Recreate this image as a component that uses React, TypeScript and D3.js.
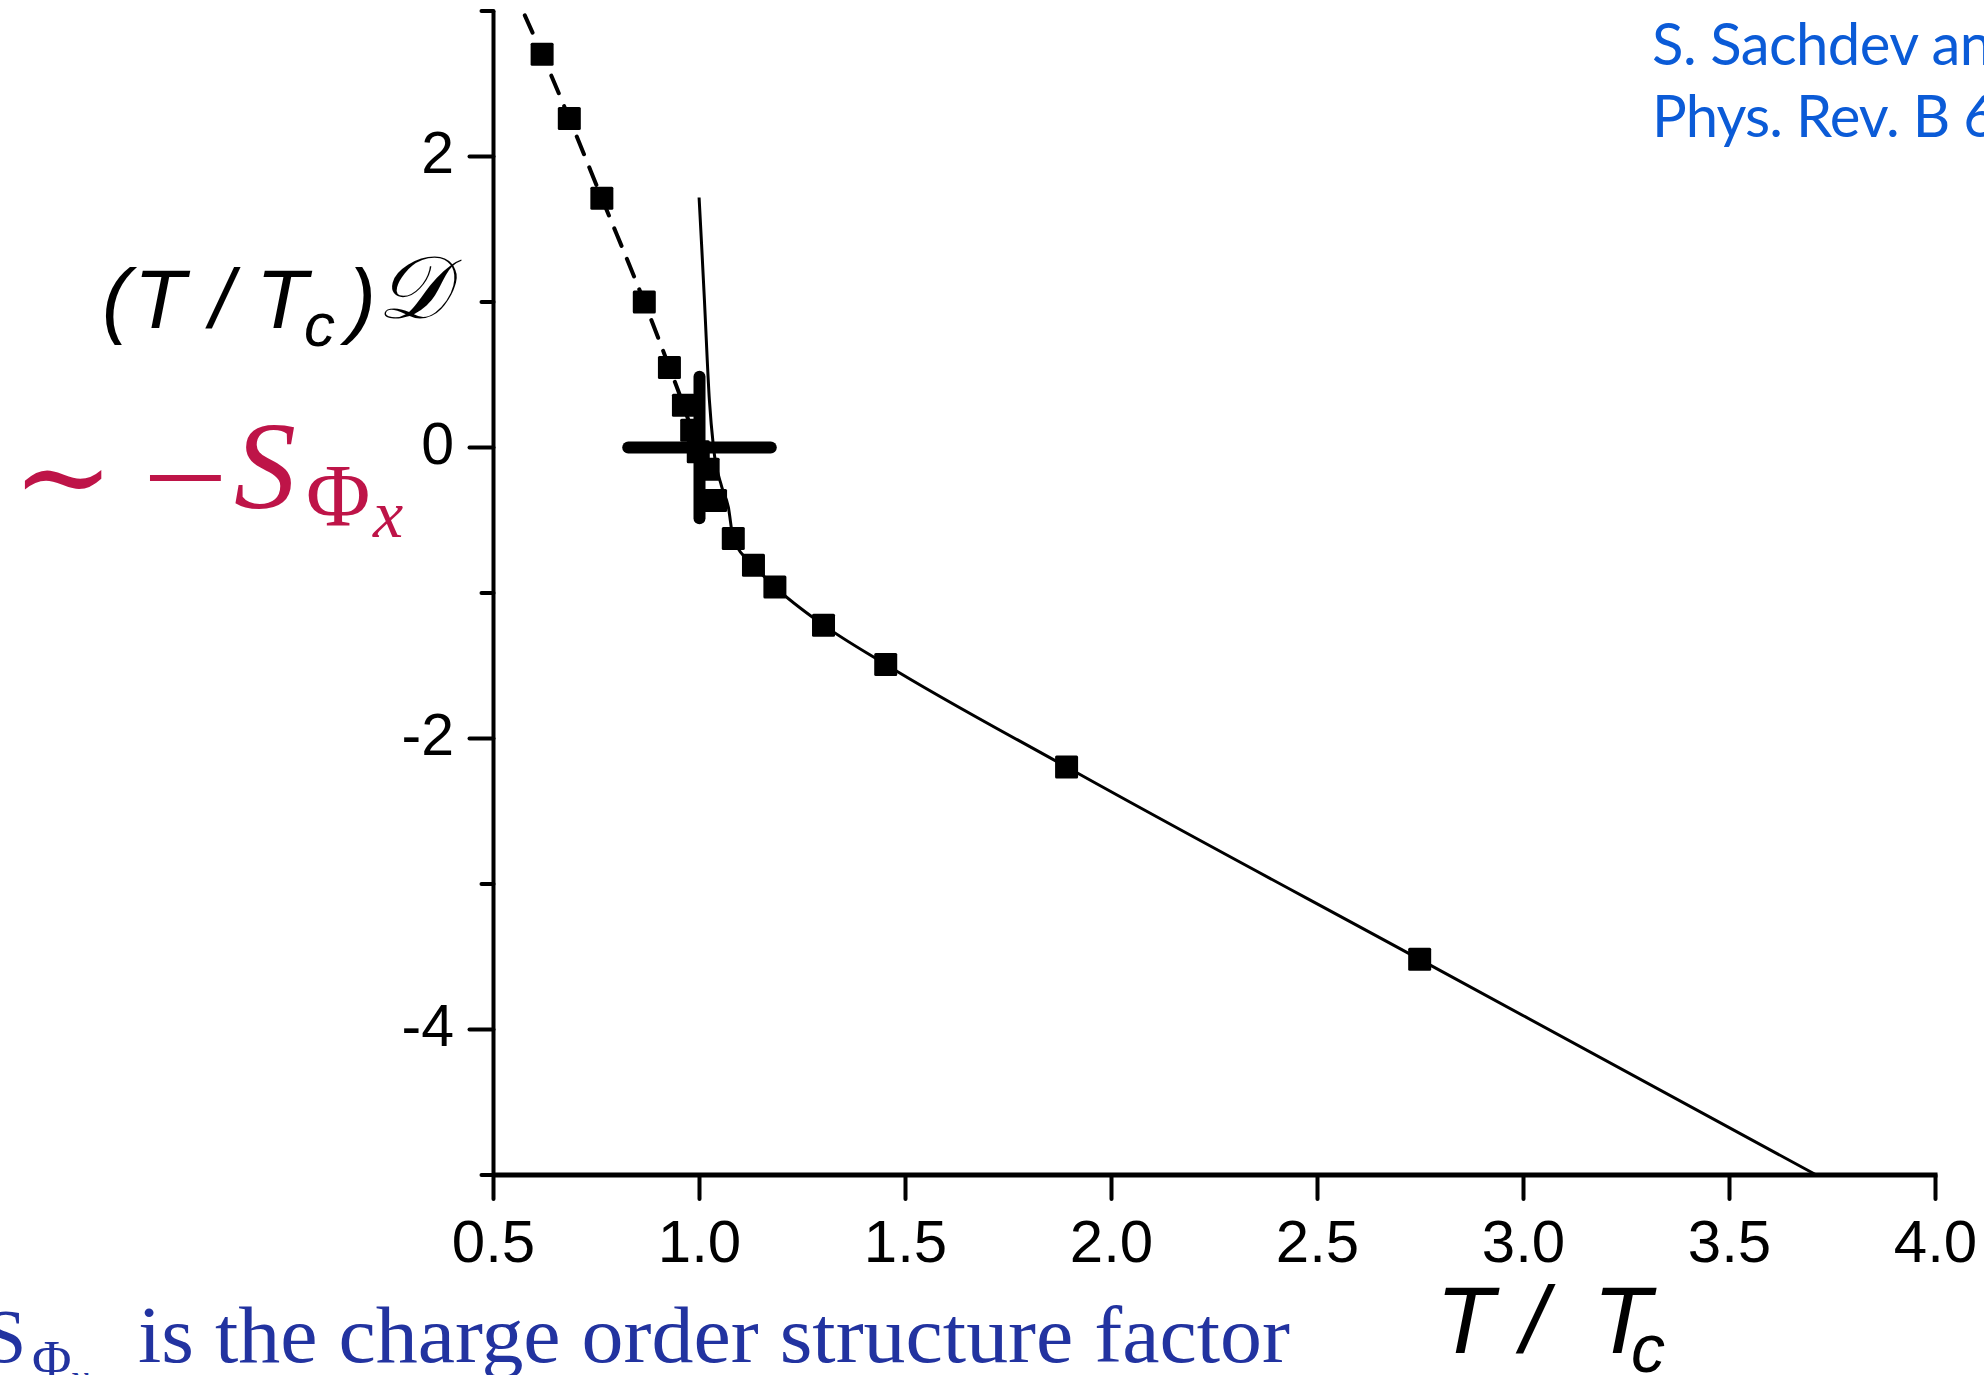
import React from 'react';
import * as d3 from 'd3';

const W = 1984;
const H = 1375;

// axis ticks
const xTicks = [0.5, 1.0, 1.5, 2.0, 2.5, 3.0, 3.5, 4.0];
const xTickLabels = ['0.5', '1.0', '1.5', '2.0', '2.5', '3.0', '3.5', '4.0'];
const yMajorTicks = [2, 0, -2, -4];
const yMajorLabels = ['2', '0', '-2', '-4'];
const yMinorTicks = [3, 1, -1, -3, -5];

// T < Tc branch (dashed) : curve and markers
const dashedT = [0.576, 0.618, 0.684, 0.763, 0.866, 0.927, 0.961, 0.981, 0.997];
const dashedV = [2.97, 2.703, 2.261, 1.713, 1.0, 0.55, 0.29, 0.119, -0.02];
const lowMarkT = [0.618, 0.684, 0.763, 0.866, 0.927, 0.961, 0.981];
const lowMarkV = [2.703, 2.261, 1.713, 1.0, 0.55, 0.29, 0.119];

// T > Tc branch (solid) : curve and markers
const solidT = [0.999, 1.005, 1.012, 1.024, 1.034, 1.054, 1.07, 1.082, 1.131, 1.183, 1.301, 1.452, 1.891, 2.748, 3.711];
const solidV = [1.718, 1.4, 1.01, 0.325, 0.0, -0.27, -0.41, -0.625, -0.809, -0.958, -1.221, -1.491, -2.196, -3.518, -5.0];
const highMarkT = [0.997, 1.021, 1.039, 1.082, 1.131, 1.183, 1.301, 1.452, 1.891, 2.748];
const highMarkV = [-0.03, -0.15, -0.365, -0.625, -0.809, -0.958, -1.221, -1.491, -2.196, -3.518];

// error cross at Tc
const crossCenter = [1.0, 0.0];
const crossXErr = 0.173;
const crossYErr = 0.486;

const x = d3.scaleLinear().domain([0.5, 4.0]).range([493.5, 1935.5]);
const y = d3.scaleLinear().domain([-5, 3]).range([1175, 11]);

const pts = (ts: number[], vs: number[]) => ts.map((t, i) => [t, vs[i]] as [number, number]);

const lineGen = d3
  .line<[number, number]>()
  .x((d) => x(d[0]))
  .y((d) => y(d[1]))
  .curve(d3.curveMonotoneX);

const MS = 23;
const SANS = "'Liberation Sans', Arial, sans-serif";
const SERIF = "'Liberation Serif', 'Times New Roman', serif";
const DSERIF = "'DejaVu Serif', serif";
const CRIMSON = '#BE1448';
const NAVY = '#2233A0';
const REFBLUE = '#0B5BD7';

export default function App() {
  const dashed = lineGen(pts(dashedT, dashedV)) || '';
  const solid = lineGen(pts(solidT, solidV)) || '';
  const markers = [...pts(lowMarkT, lowMarkV), ...pts(highMarkT, highMarkV)];
  return (
    <div style={{ position: 'absolute', left: 0, top: 0 }}>
      <svg width={W} height={H} viewBox={`0 0 ${W} ${H}`} style={{ display: 'block', background: '#fff' }}>
        <rect x={0} y={0} width={W} height={H} fill="#fff" />
        {/* curves */}
        <path d={dashed} fill="none" stroke="#000" strokeWidth={4} strokeDasharray="19 14" strokeLinecap="round" />
        <path d={solid} fill="none" stroke="#000" strokeWidth={3} />
        {/* markers */}
        {markers.map((d, i) => (
          <rect key={i} x={x(d[0]) - MS / 2} y={y(d[1]) - MS / 2} width={MS} height={MS} rx={1.5} fill="#000" />
        ))}
        {/* error cross */}
        <line
          x1={x(crossCenter[0] - crossXErr)}
          x2={x(crossCenter[0] + crossXErr)}
          y1={y(crossCenter[1])}
          y2={y(crossCenter[1])}
          stroke="#000"
          strokeWidth={12}
          strokeLinecap="round"
        />
        <line
          x1={x(crossCenter[0])}
          x2={x(crossCenter[0])}
          y1={y(crossCenter[1] - crossYErr)}
          y2={y(crossCenter[1] + crossYErr)}
          stroke="#000"
          strokeWidth={12}
          strokeLinecap="round"
        />
        {/* axes */}
        <line x1={x(0.5)} x2={x(0.5)} y1={y(3)} y2={y(-5)} stroke="#000" strokeWidth={4} />
        <line x1={x(0.5)} x2={x(4.0) + 2} y1={y(-5)} y2={y(-5)} stroke="#000" strokeWidth={5} />
        {yMajorTicks.map((t) => (
          <line key={'ym' + t} x1={x(0.5) - 24} x2={x(0.5)} y1={y(t)} y2={y(t)} stroke="#000" strokeWidth={4} strokeLinecap="round" />
        ))}
        {yMinorTicks.map((t) => (
          <line key={'yn' + t} x1={x(0.5) - 12} x2={x(0.5)} y1={y(t)} y2={y(t)} stroke="#000" strokeWidth={4} strokeLinecap="round" />
        ))}
        {xTicks.map((t) => (
          <line key={'xt' + t} x1={x(t)} x2={x(t)} y1={y(-5)} y2={y(-5) + 24} stroke="#000" strokeWidth={4} strokeLinecap="round" />
        ))}
        {yMajorTicks.map((t, i) => (
          <text key={'yl' + t} x={454} y={y(t) + 16} textAnchor="end" fontFamily={SANS} fontSize={59} fill="#000">
            {yMajorLabels[i]}
          </text>
        ))}
        {xTicks.map((t, i) => (
          <text key={'xl' + t} x={x(t)} y={1262} textAnchor="middle" fontFamily={SANS} fontSize={60} fill="#000">
            {xTickLabels[i]}
          </text>
        ))}
        {/* y-axis label (T / Tc)D */}
        <text fontFamily={SANS} fontStyle="italic" fontSize={84} fill="#000">
          <tspan x={102} y={328}>(</tspan>
          <tspan x={134} y={328}>T</tspan>
          <tspan x={210} y={328}>/</tspan>
          <tspan x={256} y={328}>T</tspan>
          <tspan x={304} y={346} fontSize={62}>c</tspan>
          <tspan x={348} y={328}>)</tspan>
        </text>
        <text x={377} y={318} fontFamily={DSERIF} fontStyle="italic" fontSize={88} fill="#000">𝒟</text>
        {/* crimson ~ -S_Phi_x */}
        <text x={12} y={518} fontFamily={DSERIF} fontSize={122} fill={CRIMSON}>∼</text>
        <text x={0} y={0} transform="translate(138,502) scale(1.49,1)" fontFamily={DSERIF} fontSize={76} fill={CRIMSON}>−</text>
        <text fill={CRIMSON}>
          <tspan x={234} y={508} fontFamily={SERIF} fontStyle="italic" fontSize={124}>S</tspan>
          <tspan x={306} y={525} fontFamily={SERIF} fontSize={88}>Φ</tspan>
          <tspan x={373} y={537} fontFamily={SERIF} fontStyle="italic" fontSize={68}>x</tspan>
        </text>
        {/* x-axis label T / Tc */}
        <text fontFamily={SANS} fontStyle="italic" fontSize={95} fill="#000">
          <tspan x={1436} y={1353}>T</tspan>
          <tspan x={1521} y={1353}>/</tspan>
          <tspan x={1593} y={1353}>T</tspan>
          <tspan x={1631} y={1372} fontSize={68}>c</tspan>
        </text>
        {/* reference (clipped at right edge) */}
        <text x={1652} y={65} fontFamily="Lato, 'Open Sans', sans-serif" fontSize={58} fill={REFBLUE} textLength={340} lengthAdjust="spacing">
          S. Sachdev an
        </text>
        <text x={1652} y={137} fontFamily="Lato, 'Open Sans', sans-serif" fontSize={58} fill={REFBLUE} textLength={345} lengthAdjust="spacing">
          Phys. Rev. B 6
        </text>
        {/* bottom note */}
        <text fill={NAVY} fontFamily={SERIF}>
          <tspan x={-16} y={1362} fontSize={76}>S</tspan>
          <tspan x={32} y={1378} fontSize={54}>Φ</tspan>
          <tspan x={70} y={1392} fontSize={42} fontStyle="italic">x</tspan>
        </text>
        <text x={138} y={1362} fill={NAVY} fontFamily={SERIF} fontSize={80} textLength={1152} lengthAdjust="spacingAndGlyphs">
          is the charge order structure factor
        </text>
      </svg>
    </div>
  );
}
